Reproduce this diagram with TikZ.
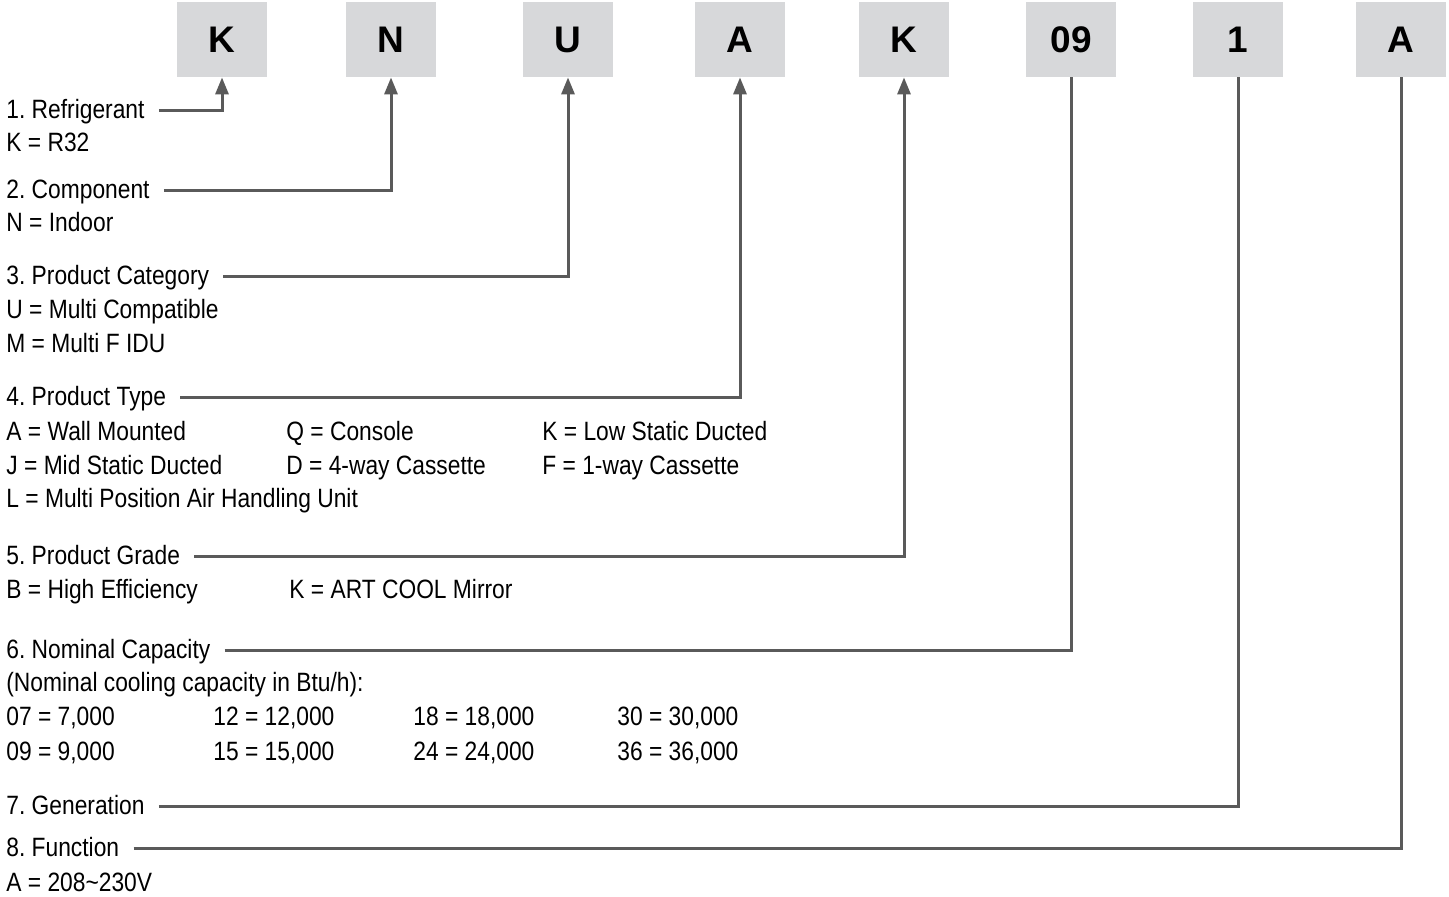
\documentclass[tikz,border=0pt]{standalone}
\usepackage{fontspec}
\setmainfont{Liberation Sans}[FakeStretch=0.86]
\newfontfamily\codefont{Liberation Sans}
\usetikzlibrary{arrows.meta}
\definecolor{boxgray}{RGB}{215,216,218}
\definecolor{leadgray}{RGB}{90,90,90}
\frenchspacing

\begin{document}
\begin{tikzpicture}[x=0.5pt,y=-0.5pt,font=\fontsize{13.25}{15}\selectfont,
  codebox/.style={fill=boxgray,minimum width=45pt,minimum height=37.5pt,inner sep=0pt,font=\codefont\fontsize{18.5}{20}\selectfont\bfseries},
  hdr/.style={anchor=west,inner xsep=0pt,text height=11pt,text depth=3pt},
  item/.style={anchor=base west,inner xsep=0pt},
  lead/.style={draw=leadgray,line width=1.5pt,shorten <=7pt},
  leadarr/.style={lead,-{Triangle[length=8.5pt,width=6.5pt]}}]
\useasboundingbox (0,0) rectangle (1449,896);
% model code boxes
\node[codebox] (c1) at (222,39.5) {K};
\node[codebox] (c2) at (391,39.5) {N};
\node[codebox] (c3) at (568,39.5) {U};
\node[codebox] (c4) at (740,39.5) {A};
\node[codebox] (c5) at (904,39.5) {K};
\node[codebox] (c6) at (1071,39.5) {09};
\node[codebox] (c7) at (1238,39.5) {1};
\node[codebox] (c8) at (1401,39.5) {A};
% 1
\node[hdr] (h1) at (6,110) {1. Refrigerant};
\node[item] (r1a) at (6,151.5) {K = R32};
% 2
\node[hdr] (h2) at (6,190) {2. Component};
\node[item] (r2a) at (6,231.5) {N = Indoor};
% 3
\node[hdr] (h3) at (6,276) {3. Product Category};
\node[item] (r3a) at (6,318.5) {U = Multi Compatible};
\node[item] (r3b) at (6,352.5) {M = Multi F IDU};
% 4
\node[hdr] (h4) at (6,397) {4. Product Type};
\node[item] (r4a) at (6,440.5) {A = Wall Mounted};
\node[item] (r4b) at (286,440.5) {Q = Console};
\node[item] (r4c) at (542,440.5) {K = Low Static Ducted};
\node[item] (r4d) at (6,474.5) {J = Mid Static Ducted};
\node[item] (r4e) at (286,474.5) {D = 4-way Cassette};
\node[item] (r4f) at (542,474.5) {F = 1-way Cassette};
\node[item] (r4g) at (6,507.5) {L = Multi Position Air Handling Unit};
% 5
\node[hdr] (h5) at (6,556) {5. Product Grade};
\node[item] (r5a) at (6,598.5) {B = High Efficiency};
\node[item] (r5b) at (289,598.5) {K = ART COOL Mirror};
% 6
\node[hdr] (h6) at (6,650) {6. Nominal Capacity};
\node[item] (r6a) at (6,691.5) {(Nominal cooling capacity in Btu/h):};
\node[item] (r6b) at (6,725.5) {07 = 7,000};
\node[item] (r6c) at (213,725.5) {12 = 12,000};
\node[item] (r6d) at (413,725.5) {18 = 18,000};
\node[item] (r6e) at (617,725.5) {30 = 30,000};
\node[item] (r6f) at (6,760.5) {09 = 9,000};
\node[item] (r6g) at (213,760.5) {15 = 15,000};
\node[item] (r6h) at (413,760.5) {24 = 24,000};
\node[item] (r6i) at (617,760.5) {36 = 36,000};
% 7
\node[hdr] (h7) at (6,806) {7. Generation};
% 8
\node[hdr] (h8) at (6,848) {8. Function};
\node[item] (r8a) at (6,891.5) {A = 208\textasciitilde230V};
% leaders
\draw[leadarr] (h1.east) -| (c1.south);
\draw[leadarr] (h2.east) -| (c2.south);
\draw[leadarr] (h3.east) -| (c3.south);
\draw[leadarr] (h4.east) -| (c4.south);
\draw[leadarr] (h5.east) -| (c5.south);
\draw[lead] (h6.east) -| (c6.south);
\draw[lead] (h7.east) -| (c7.south);
\draw[lead] (h8.east) -| (c8.south);
\end{tikzpicture}
\end{document}
